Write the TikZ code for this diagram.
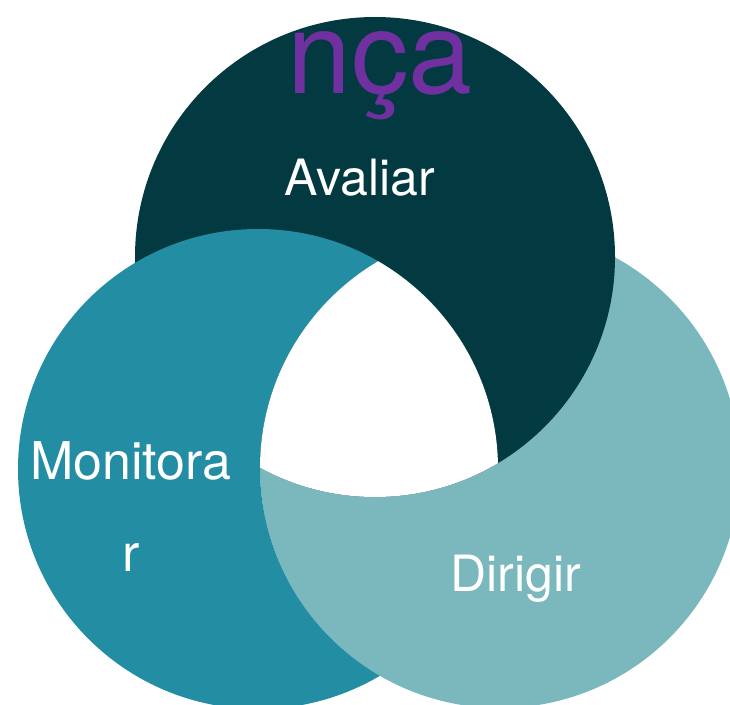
\documentclass[tikz,border=0pt]{standalone}
\usepackage{fontspec}
\setmainfont{TeX Gyre Heros}
\usetikzlibrary{positioning}

\definecolor{avaliarcol}{HTML}{033A42}
\definecolor{monitorarcol}{HTML}{238DA4}
\definecolor{dirigircol}{HTML}{7AB8BE}
\definecolor{titlecol}{HTML}{7030A0}

\begin{document}
\begin{tikzpicture}
[x=1pt, y=-1pt,
stage/.style={text=white, anchor=base, inner sep=0pt, font=\fontsize{50}{50}\selectfont},
title/.style={text=titlecol, anchor=base, inner sep=0pt, font=\fontsize{115}{115}\selectfont}]

\useasboundingbox (0,0) rectangle (730,704);
\clip (0,0) rectangle (730,704);

\coordinate (ctop) at (375,257);
\coordinate (cleft) at (258,469);
\coordinate (cright) at (500,468);

% the three rings
\fill[dirigircol] (cright) circle (240);
\fill[avaliarcol] (ctop) circle (240);
\begin{scope}
  % everything but the Dirigir ring
  \clip (-20,-20) -- (760,-20) -- (760,730) -- (-20,730) -- cycle
    (cright) ++(240,0) arc[start angle=360, end angle=0, radius=240] -- cycle;
  \fill[monitorarcol] (cleft) circle (240);
\end{scope}
\begin{scope}
  \clip (cright) circle (240);
  \clip (cleft) circle (240);
  \fill[white] (ctop) circle (240);
\end{scope}

% labels
\node[title] (titulo) at (380,93) {nça};
\node[stage] (avaliar) at (360,195) {Avaliar};
\node[stage, font=\fontsize{52}{52}\selectfont] (monitora) at (131,479) {Monitora};
\node[stage, font=\fontsize{52}{52}\selectfont] (monitorr) at (131,571) {r};
\node[stage] (dirigir) at (516,591) {Dirigir};
\end{tikzpicture}
\end{document}
